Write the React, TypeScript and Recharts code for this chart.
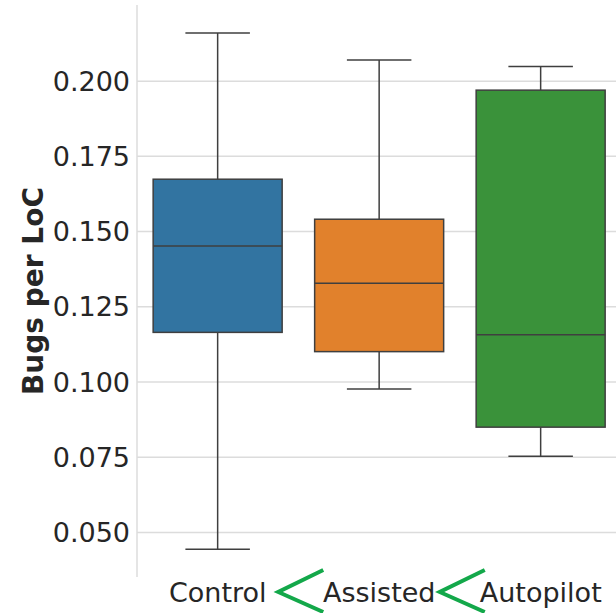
import { ComposedChart, Bar, XAxis, YAxis, CartesianGrid } from 'recharts'

const groups = ['Control', 'Assisted', 'Autopilot']
const whiskerLow = [0.0444, 0.0977, 0.0753]
const q1 = [0.1165, 0.1101, 0.085]
const median = [0.1452, 0.1328, 0.1157]
const q3 = [0.1674, 0.1541, 0.197]
const whiskerHigh = [0.216, 0.207, 0.2049]
const yTicks = [0.05, 0.075, 0.1, 0.125, 0.15, 0.175, 0.2]

const colors = ['#3274a1', '#e1812c', '#3a923a']
const edge = '#3f3f3f'
const font = 'DejaVu Sans, sans-serif'

const data = groups.map((name, i) => ({
  name,
  range: [whiskerLow[i], whiskerHigh[i]],
  q1: q1[i],
  median: median[i],
  q3: q3[i],
}))

// the bar spans whisker low..high, the rest is mapped linearly inside it
function BoxShape(props: any) {
  const { x, y, width, height, payload, index } = props
  const top = Math.min(y, y + height)
  const bottom = Math.max(y, y + height)
  const [lo, hi] = payload.range
  const py = (v: number) => bottom - ((v - lo) / (hi - lo)) * (bottom - top)
  const cx = x + width / 2
  const capHalf = width / 4
  const yQ1 = py(payload.q1)
  const yQ3 = py(payload.q3)
  const yMed = py(payload.median)
  return (
    <g stroke={edge} strokeWidth={1.5}>
      <line x1={cx} x2={cx} y1={top} y2={yQ3} />
      <line x1={cx} x2={cx} y1={yQ1} y2={bottom} />
      <line x1={cx - capHalf} x2={cx + capHalf} y1={top} y2={top} />
      <line x1={cx - capHalf} x2={cx + capHalf} y1={bottom} y2={bottom} />
      <rect x={x} y={yQ3} width={width} height={yQ1 - yQ3} fill={colors[index % colors.length]} />
      <line x1={x} x2={x + width} y1={yMed} y2={yMed} />
    </g>
  )
}

function GroupTick(props: any) {
  const { x, y, payload, index } = props
  return (
    <g>
      {index > 0 && (
        <polyline
          points={`${x - 56},${y - 15} ${x - 101},${y + 7} ${x - 56},${y + 27}`}
          fill="none"
          stroke="#13a84a"
          strokeWidth={4}
        />
      )}
      <text x={x} y={y + 17} textAnchor="middle" fill="#262626" fontSize={27} fontFamily={font}>
        {payload.value}
      </text>
    </g>
  )
}

function YLabel(props: any) {
  const { viewBox } = props
  const cx = 33
  const cy = viewBox.y + viewBox.height / 2
  return (
    <text
      x={cx}
      y={cy}
      transform={`rotate(-90, ${cx}, ${cy})`}
      textAnchor="middle"
      dominantBaseline="central"
      fontSize={28}
      fontWeight="bold"
      fontFamily={font}
      fill="#262626"
    >
      Bugs per LoC
    </text>
  )
}

export default function App() {
  return (
    <div style={{ position: 'absolute', left: 0, top: 0, width: 616, height: 613, overflow: 'hidden', background: '#fff' }}>
      <ComposedChart
        width={640}
        height={613}
        data={data}
        margin={{ top: 5, right: 18.5, left: 0, bottom: 0 }}
        barCategoryGap="10%"
      >
        <CartesianGrid vertical={false} stroke="#dcdcdc" strokeWidth={1.5} syncWithTicks />
        <XAxis
          dataKey="name"
          height={36}
          axisLine={false}
          tickLine={false}
          tick={<GroupTick />}
          interval={0}
        />
        <YAxis
          width={137}
          domain={[0.0352, 0.2253]}
          allowDataOverflow
          ticks={yTicks}
          tickFormatter={(v: number) => v.toFixed(3)}
          tickLine={false}
          tickSize={0}
          tickMargin={7}
          axisLine={{ stroke: '#dcdcdc', strokeWidth: 1.5 }}
          tick={{ fontSize: 27, fill: '#262626', fontFamily: font }}
          label={<YLabel />}
        />
        <Bar dataKey="range" shape={<BoxShape />} isAnimationActive={false} />
      </ComposedChart>
    </div>
  )
}
